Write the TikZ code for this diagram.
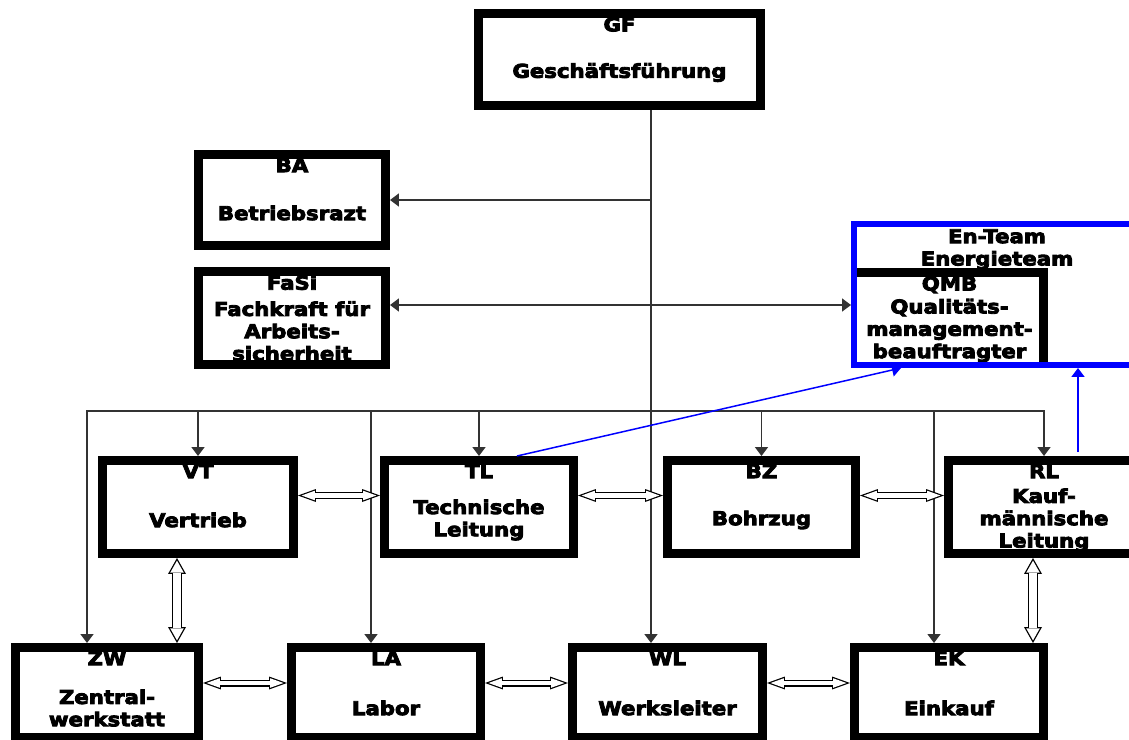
\documentclass[tikz,border=0pt]{standalone}
\usepackage{fontspec}
\setmainfont{DejaVu Sans}[FakeStretch=1.12, BoldFeatures={FakeBold=4.5}]
\usetikzlibrary{arrows.meta}

\begin{document}
\begin{tikzpicture}[x=0.02cm, y=-0.02cm,
    unit/.style={rectangle, draw=black, line width=0.18cm, fill=white,
      minimum width=3.78cm, minimum height=1.86cm, inner sep=0pt},
    teambox/.style={rectangle, draw=blue, line width=0.12cm,
      minimum width=5.72cm, minimum height=2.82cm, inner sep=0pt},
    head/.style={anchor=north, inner xsep=0pt, inner ysep=4.5pt, align=center,
      font=\fontsize{10.8}{12.7}\selectfont\bfseries},
    body/.style={anchor=center, yshift=-0.26cm, inner sep=0pt, align=center,
      font=\fontsize{10.8}{12.7}\selectfont\bfseries},
    arr/.style={draw=black!80, line width=0.03cm,
      -{Triangle[length=0.18cm, width=0.26cm]}},
    dblarr/.style={arr, {Triangle[length=0.18cm, width=0.26cm]}-{Triangle[length=0.18cm, width=0.26cm]}},
    bluearr/.style={arr, draw=blue},
    dblh/.style={draw=black, line width=0.14cm,
      {Triangle[length=0.36cm, width=0.26cm, line width=0pt]}-{Triangle[length=0.36cm, width=0.26cm, line width=0pt]},
      postaction={draw=white, line width=0.09cm, shorten <=0.072cm, shorten >=0.072cm,
        {Triangle[length=0.264cm, width=0.19cm, line width=0pt]}-{Triangle[length=0.264cm, width=0.19cm, line width=0pt]}}},
    dblv/.style={draw=black, line width=0.2cm,
      {Triangle[length=0.32cm, width=0.36cm, line width=0pt]}-{Triangle[length=0.32cm, width=0.36cm, line width=0pt]},
      postaction={draw=white, line width=0.148cm, shorten <=0.053cm, shorten >=0.053cm,
        {Triangle[length=0.241cm, width=0.272cm, line width=0pt]}-{Triangle[length=0.241cm, width=0.272cm, line width=0pt]}}},
  ]
  \useasboundingbox (0,0) rectangle (1129,740);

  % management and staff positions
  \node[unit, minimum width=5.64cm, minimum height=1.84cm,
    label={[head]north:GF}, label={[body]center:Geschäftsführung}] (gf) at (619.5,59.5) {};
  \node[unit, minimum width=3.74cm, minimum height=1.82cm,
    label={[head]north:BA}, label={[body]center:Betriebsrazt}] (ba) at (292,200) {};
  \node[unit, minimum width=3.74cm,
    label={[head]north:FaSi}, label={[body]center:Fachkraft für\\Arbeits-\\sicherheit}] (fasi) at (292,318) {};
  \node[unit, draw=none, outer sep=0pt, minimum width=3.76cm, minimum height=1.80cm,
    label={[head, inner ysep=2pt]north:QMB},
    label={[body]center:Qualitäts-\\management-\\beauftragter}] (qmb) at (949.5,317.5) {};
  \draw[line width=0.18cm] (qmb.north west) -- (qmb.north east) -- (qmb.south east);
  \node[teambox, label={[head]north:En-Team\\Energieteam}] (team) at (997,294.5) {};

  % departments
  \node[unit, minimum width=3.82cm, label={[head]north:VT}, label={[body]center:Vertrieb}] (vt) at (198,507) {};
  \node[unit, label={[head]north:TL}, label={[body]center:Technische\\Leitung}] (tl) at (479,507) {};
  \node[unit, minimum width=3.76cm, label={[head]north:BZ}, label={[body]center:Bohrzug}] (bz) at (761.5,507) {};
  \node[unit, minimum width=3.82cm, label={[head]north:RL},
    label={[body]center:Kauf-\\männische\\Leitung}] (rl) at (1044,507) {};

  \node[unit, minimum width=3.66cm, minimum height=1.80cm, label={[head]north:ZW},
    label={[body, yshift=-0.05cm]center:Zentral-\\werkstatt}] (zw) at (107,692.5) {};
  \node[unit, minimum height=1.80cm, label={[head]north:LA},
    label={[body, yshift=-0.05cm]center:Labor}] (la) at (386,692.5) {};
  \node[unit, minimum width=3.80cm, minimum height=1.80cm, label={[head]north:WL},
    label={[body, yshift=-0.05cm]center:Werksleiter}] (wl) at (667.5,692.5) {};
  \node[unit, minimum height=1.80cm, label={[head]north:EK},
    label={[body, yshift=-0.05cm]center:Einkauf}] (ek) at (949,692.5) {};

  % reporting lines
  \coordinate (spine) at (651,0);
  \coordinate (bus) at (0,411);
  \draw[arr] (gf.south -| spine) -- (wl.north -| spine);
  \draw[arr] (spine |- ba.east) -- (ba.east);
  \draw[dblarr] ([yshift=0.26cm]fasi.east) -- ([yshift=0.26cm]fasi.east -| team.west);
  \coordinate (zw-in) at ([xshift=-0.4cm]zw.north);
  \draw[dblarr] (zw-in) |- (bus -| rl.north) -- (rl.north);
  \foreach \n in {vt, tl, bz}
    \draw[arr] (bus -| \n.north) -- (\n.north);
  \foreach \n in {la, ek} {
    \coordinate (\n-in) at ([xshift=-0.3cm]\n.north);
    \draw[arr] (bus -| \n-in) -- (\n-in);
  }

  % energy team
  \draw[bluearr] ([xshift=0.76cm]tl.north) -- ([xshift=-1.92cm]team.south);
  \coordinate (rl-out) at ([xshift=0.68cm]rl.north);
  \draw[bluearr, shorten <=0.08cm] (rl-out) -- (rl-out |- team.south);

  % cooperation
  \draw[dblh] ([yshift=0.23cm]vt.east) -- ([yshift=0.23cm]tl.west);
  \draw[dblh] ([yshift=0.23cm]tl.east) -- ([yshift=0.23cm]bz.west);
  \draw[dblh] ([yshift=0.23cm]bz.east) -- ([yshift=0.23cm]rl.west);
  \draw[dblh] ([yshift=0.19cm]zw.east) -- ([yshift=0.19cm]la.west);
  \draw[dblh] ([yshift=0.19cm]la.east) -- ([yshift=0.19cm]wl.west);
  \draw[dblh] ([yshift=0.19cm]wl.east) -- ([yshift=0.19cm]ek.west);
  \coordinate (vz) at ([xshift=-0.42cm]vt.south);
  \draw[dblv] (vz) -- (vz |- zw.north);
  \coordinate (re) at ([xshift=-0.22cm]rl.south);
  \draw[dblv] (re) -- (re |- ek.north);
\end{tikzpicture}
\end{document}
